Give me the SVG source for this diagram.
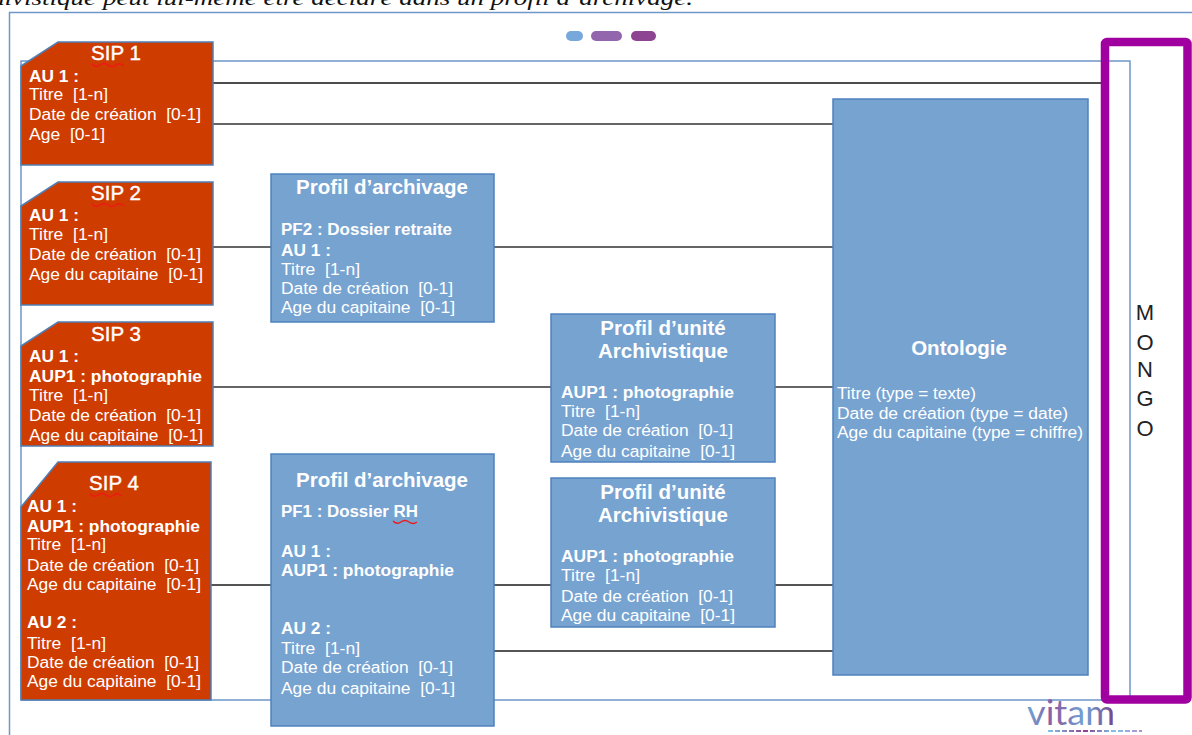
<svg xmlns="http://www.w3.org/2000/svg" width="1192" height="735" viewBox="0 0 1192 735">
<defs>
<linearGradient id="lg" x1="0" y1="0" x2="1" y2="0"><stop offset="0" stop-color="#6fa5d8"/><stop offset=".3" stop-color="#8a5a9e"/><stop offset=".65" stop-color="#6fa5d8"/><stop offset="1" stop-color="#7a3f86"/></linearGradient>
<linearGradient id="ld" gradientUnits="userSpaceOnUse" x1="1048" y1="0" x2="1142" y2="0"><stop offset="0" stop-color="#7fc4ea"/><stop offset=".4" stop-color="#8e3f92"/><stop offset=".7" stop-color="#7fc4ea"/><stop offset="1" stop-color="#b58fd0"/></linearGradient>
</defs>
<style>
text{font-family:"Liberation Sans",Arial,sans-serif;fill:#fff;font-size:16px;white-space:pre}
.b{font-weight:bold}
.t{font-size:20.500px;font-weight:bold;text-anchor:middle}
.s{font-size:20.500px;text-anchor:middle;stroke:#fff;stroke-width:.4}
.sip{fill:#cf3c00;stroke:#4f7fb5;stroke-width:1.5}
.blue{fill:#77a3d1;stroke:#4f81bd;stroke-width:1.5}
.frame{fill:none;stroke:#6f97c9;stroke-width:1.5}
.c{fill:none;stroke:#333;stroke-width:1.5}
.sq{fill:none;stroke:#f01818;stroke-width:1.3}
.m{fill:#222;font-size:22px;text-anchor:middle}
</style>
<text x="-9" y="5" style="font-family:'Liberation Serif',serif;font-style:italic;font-size:21px;fill:#111" textLength="702" lengthAdjust="spacingAndGlyphs">hivistique peut lui-même être déclaré dans un profil d’archivage.</text>
<path class="frame" d="M9.500 735V12.500H1192"/>
<path class="frame" d="M21 700V61H1130V700H21"/>
<g id="dots">
<rect x="566" y="31" width="17" height="10" rx="5" fill="#77a8dc"/>
<rect x="591" y="31" width="31" height="10" rx="5" fill="#9265ad"/>
<rect x="631" y="31" width="25" height="10" rx="5" fill="#8e4591"/>
</g>
<g id="connectors">
<path d="M213 83H1104" fill="none" stroke="#111" stroke-width="1.500"/>
<path class="c" d="M213 124H833M213 247H271M494 247H833M213 387H551M775 387H833"/>
<path d="M211 585H271M494 585H551M775 585H833M494 651H833" fill="none" stroke="#555" stroke-width="2"/>
</g>
<g id="sip1">
<path class="sip" d="M21 66L58 42H213V165H21Z"/>
<text class="s" x="116" y="60">SIP 1</text>
<path class="sq" d="M92 64q4 4 8 1t8 0t8 0t8 1"/>
<text class="b" x="29" y="82" textLength="50" lengthAdjust="spacingAndGlyphs">AU 1 :</text>
<text x="29" y="100" textLength="79" lengthAdjust="spacingAndGlyphs">Titre  [1-n]</text>
<text x="29" y="120" textLength="172" lengthAdjust="spacingAndGlyphs">Date de création  [0-1]</text>
<text x="29" y="140" textLength="76" lengthAdjust="spacingAndGlyphs">Age  [0-1]</text>
</g>
<g id="sip2">
<path class="sip" d="M21 206L58 182H213V305H21Z"/>
<text class="s" x="116" y="200">SIP 2</text>
<path class="sq" d="M92 204q4 4 8 1t8 0t8 0t8 1"/>
<text class="b" x="29" y="221" textLength="50" lengthAdjust="spacingAndGlyphs">AU 1 :</text>
<text x="29" y="240" textLength="79" lengthAdjust="spacingAndGlyphs">Titre  [1-n]</text>
<text x="29" y="260" textLength="172" lengthAdjust="spacingAndGlyphs">Date de création  [0-1]</text>
<text x="29" y="280" textLength="174" lengthAdjust="spacingAndGlyphs">Age du capitaine  [0-1]</text>
</g>
<g id="sip3">
<path class="sip" d="M21 346L58 322H213V446H21Z"/>
<text class="s" x="116" y="341">SIP 3</text>
<text class="b" x="29" y="362" textLength="50" lengthAdjust="spacingAndGlyphs">AU 1 :</text>
<text class="b" x="29" y="382" textLength="173" lengthAdjust="spacingAndGlyphs">AUP1 : photographie</text>
<text x="29" y="401" textLength="79" lengthAdjust="spacingAndGlyphs">Titre  [1-n]</text>
<text x="29" y="421" textLength="172" lengthAdjust="spacingAndGlyphs">Date de création  [0-1]</text>
<text x="29" y="441" textLength="174" lengthAdjust="spacingAndGlyphs">Age du capitaine  [0-1]</text>
</g>
<g id="sip4">
<path class="sip" d="M21 507L58 462H211V700H21Z"/>
<text class="s" x="114" y="490">SIP 4</text>
<path class="sq" d="M90 494q4 4 8 1t8 0t8 0t8 1"/>
<text class="b" x="27" y="512" textLength="50" lengthAdjust="spacingAndGlyphs">AU 1 :</text>
<text class="b" x="27" y="532" textLength="173" lengthAdjust="spacingAndGlyphs">AUP1 : photographie</text>
<text x="27" y="550" textLength="79" lengthAdjust="spacingAndGlyphs">Titre  [1-n]</text>
<text x="27" y="571" textLength="172" lengthAdjust="spacingAndGlyphs">Date de création  [0-1]</text>
<text x="27" y="590" textLength="174" lengthAdjust="spacingAndGlyphs">Age du capitaine  [0-1]</text>
<text class="b" x="27" y="628" textLength="50" lengthAdjust="spacingAndGlyphs">AU 2 :</text>
<text x="27" y="649" textLength="79" lengthAdjust="spacingAndGlyphs">Titre  [1-n]</text>
<text x="27" y="668" textLength="172" lengthAdjust="spacingAndGlyphs">Date de création  [0-1]</text>
<text x="27" y="687" textLength="174" lengthAdjust="spacingAndGlyphs">Age du capitaine  [0-1]</text>
</g>
<g id="profil-archivage-1">
<rect class="blue" x="271" y="174" width="223" height="148"/>
<text class="t" x="382" y="194">Profil d’archivage</text>
<text class="b" x="281" y="235" textLength="171" lengthAdjust="spacingAndGlyphs">PF2 : Dossier retraite</text>
<text class="b" x="281" y="256" textLength="50" lengthAdjust="spacingAndGlyphs">AU 1 :</text>
<text x="281" y="275" textLength="79" lengthAdjust="spacingAndGlyphs">Titre  [1-n]</text>
<text x="281" y="294" textLength="172" lengthAdjust="spacingAndGlyphs">Date de création  [0-1]</text>
<text x="281" y="313" textLength="174" lengthAdjust="spacingAndGlyphs">Age du capitaine  [0-1]</text>
</g>
<g id="profil-unite-1">
<rect class="blue" x="551" y="314" width="224" height="148"/>
<text class="t" x="663" y="335">Profil d’unité</text>
<text class="t" x="663" y="358">Archivistique</text>
<text class="b" x="561" y="398" textLength="173" lengthAdjust="spacingAndGlyphs">AUP1 : photographie</text>
<text x="561" y="417" textLength="79" lengthAdjust="spacingAndGlyphs">Titre  [1-n]</text>
<text x="561" y="436" textLength="172" lengthAdjust="spacingAndGlyphs">Date de création  [0-1]</text>
<text x="561" y="457" textLength="174" lengthAdjust="spacingAndGlyphs">Age du capitaine  [0-1]</text>
</g>
<g id="profil-unite-2">
<rect class="blue" x="551" y="478" width="224" height="149"/>
<text class="t" x="663" y="499">Profil d’unité</text>
<text class="t" x="663" y="522">Archivistique</text>
<text class="b" x="561" y="562" textLength="173" lengthAdjust="spacingAndGlyphs">AUP1 : photographie</text>
<text x="561" y="581" textLength="79" lengthAdjust="spacingAndGlyphs">Titre  [1-n]</text>
<text x="561" y="602" textLength="172" lengthAdjust="spacingAndGlyphs">Date de création  [0-1]</text>
<text x="561" y="621" textLength="174" lengthAdjust="spacingAndGlyphs">Age du capitaine  [0-1]</text>
</g>
<g id="profil-archivage-2">
<rect class="blue" x="271" y="454" width="223" height="272"/>
<text class="t" x="382" y="487">Profil d’archivage</text>
<text class="b" x="281" y="517" textLength="137" lengthAdjust="spacingAndGlyphs">PF1 : Dossier RH</text>
<path class="sq" d="M393 521q4 4 8 1t8 0t8 0"/>
<text class="b" x="281" y="557" textLength="50" lengthAdjust="spacingAndGlyphs">AU 1 :</text>
<text class="b" x="281" y="576" textLength="173" lengthAdjust="spacingAndGlyphs">AUP1 : photographie</text>
<text class="b" x="281" y="634" textLength="50" lengthAdjust="spacingAndGlyphs">AU 2 :</text>
<text x="281" y="654" textLength="79" lengthAdjust="spacingAndGlyphs">Titre  [1-n]</text>
<text x="281" y="673" textLength="172" lengthAdjust="spacingAndGlyphs">Date de création  [0-1]</text>
<text x="281" y="694" textLength="174" lengthAdjust="spacingAndGlyphs">Age du capitaine  [0-1]</text>
</g>
<g id="ontologie">
<rect class="blue" x="833" y="99" width="255" height="576"/>
<text class="t" x="959" y="355">Ontologie</text>
<text x="837" y="399" textLength="139" lengthAdjust="spacingAndGlyphs">Titre (type = texte)</text>
<text x="837" y="419" textLength="231" lengthAdjust="spacingAndGlyphs">Date de création (type = date)</text>
<text x="837" y="438" textLength="246" lengthAdjust="spacingAndGlyphs">Age du capitaine (type = chiffre)</text>
</g>
<g id="mongo">
<rect x="1105" y="42" width="82.500" height="657.500" rx="2" fill="none" stroke="#a000a0" stroke-width="8.500"/>
<text class="m" x="1145" y="320">M</text>
<text class="m" x="1145" y="350">O</text>
<text class="m" x="1145" y="377">N</text>
<text class="m" x="1145" y="406">G</text>
<text class="m" x="1145" y="436">O</text>
</g>
<g id="logo">
<text x="1027" y="725" style="fill:url(#lg);font-family:Lato,sans-serif;font-size:34px" textLength="88" lengthAdjust="spacingAndGlyphs">vitam</text>
<path d="M1048 731H1142" stroke="url(#ld)" stroke-width="1.800" stroke-dasharray="5 2" fill="none"/>
</g>
</svg>
